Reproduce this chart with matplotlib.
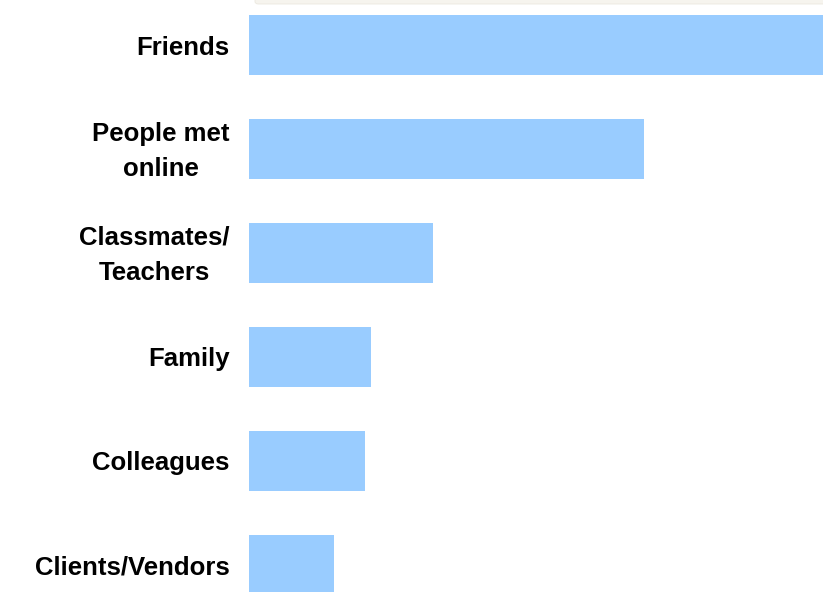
import matplotlib.pyplot as plt
import matplotlib.transforms as mtransforms
from matplotlib.patches import FancyBboxPatch

# Who people share with
categories = ['Friends', 'People met\nonline', 'Classmates/\nTeachers',
              'Family', 'Colleagues', 'Clients/Vendors']
values = [57, 39.2, 18.3, 12.1, 11.5, 8.4]

plt.rcParams['font.family'] = ['Liberation Sans', 'DejaVu Sans']

fig = plt.figure(figsize=(8.23, 5.92), dpi=100)
ax = fig.add_axes([249 / 823, 0, 1 - 249 / 823, 1])

pos = list(range(len(categories)))
ax.barh(pos, values, height=0.577, color='#99ccff', edgecolor='none')

ax.set_xlim(0, values[0])
ax.set_ylim(5.26, -0.433)
ax.set_yticks(pos)
ax.set_yticklabels(categories, fontsize=18.5, fontweight='bold',
                   ha='right', multialignment='center', linespacing=1.6)
ax.tick_params(axis='y', length=0, pad=14)
ax.set_xticks([])
for s in ax.spines.values():
    s.set_visible(False)

# two-line labels sit a little low with the wide line spacing, nudge them up
nudge = mtransforms.ScaledTranslation(0, 6 / 100, fig.dpi_scale_trans)
for lab in ax.get_yticklabels():
    if '\n' in lab.get_text():
        lab.set_transform(lab.get_transform() + nudge)

# faint strip along the top edge
fig.patches.append(FancyBboxPatch((255 / 823, 1 - 4 / 592), 1, 8 / 592,
                                  boxstyle='round,pad=0,rounding_size=0.004',
                                  transform=fig.transFigure,
                                  facecolor='#f6f4ee', edgecolor='#ebe8df',
                                  linewidth=0.6))

fig.savefig('out.png', dpi=100)
